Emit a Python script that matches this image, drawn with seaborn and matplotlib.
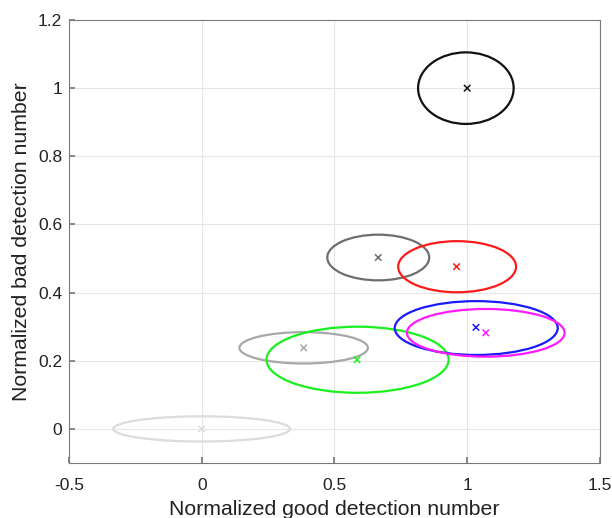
import matplotlib
matplotlib.use("Agg")
import matplotlib.pyplot as plt
from matplotlib.patches import Ellipse
import seaborn as sns
import pandas as pd

# Data
names = ["A", "B", "C", "D", "E", "F", "G", "H"]
mean_x = [0.0, 0.384, 0.585, 0.665, 0.96, 1.033, 1.07, 1.0]
mean_y = [0.0, 0.238, 0.203, 0.503, 0.476, 0.298, 0.282, 1.0]
ell_cx = [0.0, 0.384, 0.587, 0.665, 0.962, 1.034, 1.07, 0.995]
ell_cy = [0.0, 0.238, 0.203, 0.503, 0.476, 0.296, 0.282, 1.0]
semi_x = [0.333, 0.242, 0.343, 0.192, 0.222, 0.307, 0.297, 0.180]
semi_y = [0.037, 0.046, 0.097, 0.067, 0.075, 0.079, 0.070, 0.105]
colors = ["#dcdcdc", "#a8a8a8", "#19f01e", "#6e6e6e", "#ff1a1a", "#1a1aff", "#ff1aff", "#111111"]

df = pd.DataFrame({"name": names, "x": mean_x, "y": mean_y})

sns.set_theme(style="white")
plt.rcParams["font.family"] = ["Liberation Sans", "DejaVu Sans"]

fig = plt.figure(figsize=(6.12, 5.18), dpi=100)
ax = fig.add_axes([0.1127, 0.1062, 0.8676, 0.8552])

for cx, cy, sx, sy, c in zip(ell_cx, ell_cy, semi_x, semi_y, colors):
    ax.add_patch(Ellipse((cx, cy), 2 * sx, 2 * sy, fill=False, edgecolor=c, linewidth=1.6, zorder=3))

sns.scatterplot(data=df, x="x", y="y", hue="name", palette=colors, marker="x",
                s=22, linewidth=1.1, legend=False, ax=ax, zorder=4)

ax.set_xlim(-0.5, 1.5)
ax.set_ylim(-0.1, 1.2)
ax.set_xticks([-0.5, 0, 0.5, 1, 1.5])
ax.set_xticklabels(["-0.5", "0", "0.5", "1", "1.5"])
ax.set_yticks([0, 0.2, 0.4, 0.6, 0.8, 1, 1.2])
ax.set_yticklabels(["0", "0.2", "0.4", "0.6", "0.8", "1", "1.2"])
ax.grid(True, color="#e6e6e6", linewidth=0.8)
ax.set_axisbelow(True)
for s in ax.spines.values():
    s.set_color("#7a7a7a")
    s.set_linewidth(0.8)
ax.tick_params(direction="in", length=4, color="#7a7a7a", labelsize=12.5, labelcolor="#222222",
               top=False, right=False, bottom=True, left=True)
ax.tick_params(axis="x", pad=11)
ax.tick_params(axis="y", pad=5)
ax.set_xlabel("Normalized good detection number", fontsize=15.3, color="#222222", labelpad=5)
ax.set_ylabel("Normalized bad detection number", fontsize=15.3, color="#222222", labelpad=5)

fig.savefig("out.png", dpi=100)
